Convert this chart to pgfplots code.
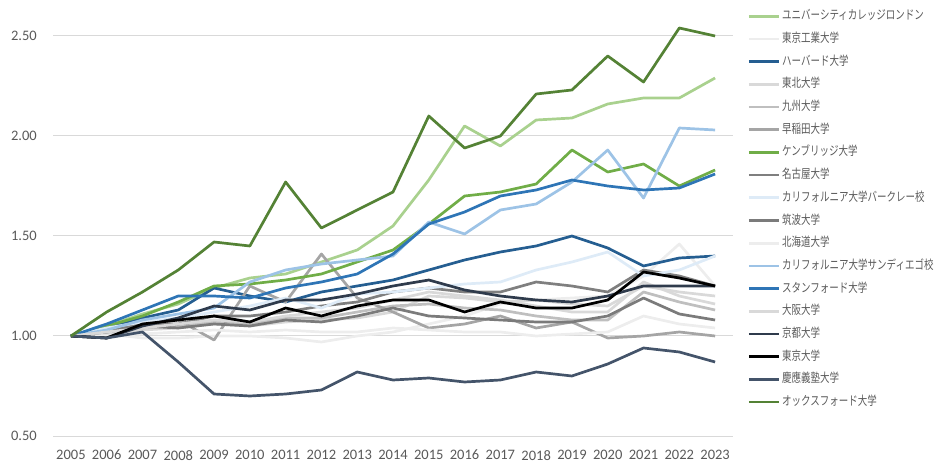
\documentclass[border=0pt]{standalone}
\usepackage{fontspec}
\setmainfont{Carlito}
\newfontfamily\jp[FakeStretch=0.76]{Noto Sans CJK JP}
\usepackage{pgfplots}
\pgfplotsset{compat=1.18}
\definecolor{cUCL}{HTML}{A9D18E}
\definecolor{cTIT}{HTML}{EDEDED}
\definecolor{cHarv}{HTML}{255E91}
\definecolor{cTohoku}{HTML}{D9D9D9}
\definecolor{cKyushu}{HTML}{BFBFBF}
\definecolor{cWaseda}{HTML}{A5A5A5}
\definecolor{cCamb}{HTML}{70AD47}
\definecolor{cNagoya}{HTML}{7F7F7F}
\definecolor{cBerk}{HTML}{DEEBF7}
\definecolor{cTsukuba}{HTML}{7B7B7B}
\definecolor{cHokudai}{HTML}{EDEDED}
\definecolor{cUCSD}{HTML}{9DC3E6}
\definecolor{cStan}{HTML}{2E75B6}
\definecolor{cOsaka}{HTML}{D9D9D9}
\definecolor{cKyoto}{HTML}{2F3B4C}
\definecolor{cTokyo}{HTML}{000000}
\definecolor{cKeio}{HTML}{44546A}
\definecolor{cOxf}{HTML}{548235}
\definecolor{gridc}{HTML}{D9D9D9}
\definecolor{tickc}{HTML}{595959}
\begin{document}
\begin{tikzpicture}
\useasboundingbox (0,0) rectangle (936pt,463pt);
\begin{axis}[
  at={(53pt,27pt)}, anchor=south west,
  scale only axis, width=680pt, height=436pt,
  xmin=2004.5, xmax=2023.5, ymin=0.5, ymax=2.68,
  xtick={2005,2006,...,2023}, ytick={0.5,1,1.5,2,2.5},
  axis line style={draw=none}, major tick length=0pt,
  ymajorgrids, grid style={draw=gridc, line width=1pt},
  /pgf/number format/assume math mode=true,
  xticklabel style={/pgf/number format/1000 sep={}, anchor=north, inner sep=0pt, yshift=-14pt},
  yticklabel style={/pgf/number format/.cd, fixed, fixed zerofill, precision=2, /tikz/.cd, anchor=east, inner sep=0pt, xshift=-16pt},
  tick label style={font=\fontsize{14.5}{16}\selectfont, text=tickc},
  every axis plot/.append style={mark=none, line width=2.7pt, line join=round},
  legend image code/.code={\draw[#1] (0pt,0pt) -- (30pt,0pt);},
  legend cell align=left,
  legend style={at={(1.021,0.977)}, anchor=north west, draw=none, fill=none, inner sep=0pt,
    font=\jp\fontsize{12.5}{13}\selectfont, text=tickc, row sep=10.7pt, column sep=2pt,
    nodes={inner sep=0pt, text height=9.5pt, text depth=2.5pt}},
]
% UCL
\addplot[cUCL] coordinates {(2005,1.00)(2006,1.05)(2007,1.11)(2008,1.16)(2009,1.24)(2010,1.29)(2011,1.31)(2012,1.37)(2013,1.43)(2014,1.55)(2015,1.78)(2016,2.05)(2017,1.95)(2018,2.08)(2019,2.09)(2020,2.16)(2021,2.19)(2022,2.19)(2023,2.29)};
\addlegendentry{ユニバーシティカレッジロンドン}
% Tokyo Tech
\addplot[cTIT] coordinates {(2005,1.00)(2006,1.01)(2007,0.99)(2008,0.99)(2009,1.00)(2010,1.00)(2011,0.99)(2012,0.97)(2013,1.00)(2014,1.02)(2015,1.06)(2016,1.10)(2017,1.16)(2018,1.18)(2019,1.19)(2020,1.20)(2021,1.30)(2022,1.46)(2023,1.25)};
\addlegendentry{東京工業大学}
% Harvard
\addplot[cHarv] coordinates {(2005,1.00)(2006,1.04)(2007,1.09)(2008,1.13)(2009,1.24)(2010,1.20)(2011,1.17)(2012,1.22)(2013,1.25)(2014,1.28)(2015,1.33)(2016,1.38)(2017,1.42)(2018,1.45)(2019,1.50)(2020,1.44)(2021,1.35)(2022,1.39)(2023,1.40)};
\addlegendentry{ハーバード大学}
% Tohoku
\addplot[cTohoku] coordinates {(2005,1.00)(2006,1.01)(2007,1.03)(2008,1.04)(2009,1.06)(2010,1.05)(2011,1.07)(2012,1.08)(2013,1.09)(2014,1.12)(2015,1.20)(2016,1.19)(2017,1.17)(2018,1.18)(2019,1.16)(2020,1.15)(2021,1.25)(2022,1.22)(2023,1.20)};
\addlegendentry{東北大学}
% Kyushu
\addplot[cKyushu] coordinates {(2005,1.00)(2006,1.02)(2007,1.04)(2008,1.05)(2009,1.07)(2010,1.06)(2011,1.09)(2012,1.09)(2013,1.12)(2014,1.15)(2015,1.16)(2016,1.14)(2017,1.13)(2018,1.10)(2019,1.08)(2020,1.08)(2021,1.22)(2022,1.17)(2023,1.13)};
\addlegendentry{九州大学}
% Waseda
\addplot[cWaseda] coordinates {(2005,1.00)(2006,1.02)(2007,1.06)(2008,1.08)(2009,0.98)(2010,1.25)(2011,1.17)(2012,1.41)(2013,1.19)(2014,1.12)(2015,1.04)(2016,1.06)(2017,1.10)(2018,1.04)(2019,1.07)(2020,0.99)(2021,1.00)(2022,1.02)(2023,1.00)};
\addlegendentry{早稲田大学}
% Cambridge
\addplot[cCamb] coordinates {(2005,1.00)(2006,1.05)(2007,1.10)(2008,1.17)(2009,1.25)(2010,1.26)(2011,1.28)(2012,1.31)(2013,1.37)(2014,1.43)(2015,1.56)(2016,1.70)(2017,1.72)(2018,1.76)(2019,1.93)(2020,1.82)(2021,1.86)(2022,1.75)(2023,1.83)};
\addlegendentry{ケンブリッジ大学}
% Nagoya
\addplot[cNagoya] coordinates {(2005,1.00)(2006,1.03)(2007,1.06)(2008,1.06)(2009,1.10)(2010,1.10)(2011,1.12)(2012,1.15)(2013,1.17)(2014,1.22)(2015,1.24)(2016,1.22)(2017,1.22)(2018,1.27)(2019,1.25)(2020,1.22)(2021,1.33)(2022,1.30)(2023,1.25)};
\addlegendentry{名古屋大学}
% Berkeley
\addplot[cBerk] coordinates {(2005,1.00)(2006,1.04)(2007,1.07)(2008,1.09)(2009,1.12)(2010,1.15)(2011,1.19)(2012,1.14)(2013,1.21)(2014,1.22)(2015,1.24)(2016,1.26)(2017,1.27)(2018,1.33)(2019,1.37)(2020,1.42)(2021,1.30)(2022,1.33)(2023,1.40)};
\addlegendentry{カリフォルニア大学バークレー校}
% Tsukuba
\addplot[cTsukuba] coordinates {(2005,1.00)(2006,1.02)(2007,1.05)(2008,1.04)(2009,1.06)(2010,1.05)(2011,1.08)(2012,1.07)(2013,1.10)(2014,1.14)(2015,1.10)(2016,1.09)(2017,1.08)(2018,1.07)(2019,1.07)(2020,1.10)(2021,1.19)(2022,1.11)(2023,1.08)};
\addlegendentry{筑波大学}
% Hokkaido
\addplot[cHokudai] coordinates {(2005,1.00)(2006,1.00)(2007,1.01)(2008,1.02)(2009,1.03)(2010,1.02)(2011,1.03)(2012,1.02)(2013,1.02)(2014,1.04)(2015,1.03)(2016,1.02)(2017,1.02)(2018,1.00)(2019,1.01)(2020,1.02)(2021,1.10)(2022,1.06)(2023,1.04)};
\addlegendentry{北海道大学}
% UCSD
\addplot[cUCSD] coordinates {(2005,1.00)(2006,1.03)(2007,1.08)(2008,1.11)(2009,1.14)(2010,1.27)(2011,1.33)(2012,1.36)(2013,1.38)(2014,1.40)(2015,1.57)(2016,1.51)(2017,1.63)(2018,1.66)(2019,1.77)(2020,1.93)(2021,1.69)(2022,2.04)(2023,2.03)};
\addlegendentry{カリフォルニア大学サンディエゴ校}
% Stanford
\addplot[cStan] coordinates {(2005,1.00)(2006,1.06)(2007,1.13)(2008,1.20)(2009,1.20)(2010,1.19)(2011,1.24)(2012,1.27)(2013,1.31)(2014,1.41)(2015,1.56)(2016,1.62)(2017,1.70)(2018,1.73)(2019,1.78)(2020,1.75)(2021,1.73)(2022,1.74)(2023,1.81)};
\addlegendentry{スタンフォード大学}
% Osaka
\addplot[cOsaka] coordinates {(2005,1.00)(2006,1.02)(2007,1.04)(2008,1.06)(2009,1.08)(2010,1.07)(2011,1.10)(2012,1.12)(2013,1.14)(2014,1.18)(2015,1.22)(2016,1.20)(2017,1.18)(2018,1.15)(2019,1.12)(2020,1.12)(2021,1.27)(2022,1.20)(2023,1.16)};
\addlegendentry{大阪大学}
% Kyoto
\addplot[cKyoto] coordinates {(2005,1.00)(2006,0.99)(2007,1.05)(2008,1.09)(2009,1.15)(2010,1.13)(2011,1.18)(2012,1.18)(2013,1.21)(2014,1.25)(2015,1.28)(2016,1.23)(2017,1.20)(2018,1.18)(2019,1.17)(2020,1.20)(2021,1.25)(2022,1.25)(2023,1.25)};
\addlegendentry{京都大学}
% Tokyo
\addplot[cTokyo] coordinates {(2005,1.00)(2006,0.99)(2007,1.06)(2008,1.08)(2009,1.10)(2010,1.07)(2011,1.14)(2012,1.10)(2013,1.15)(2014,1.18)(2015,1.18)(2016,1.12)(2017,1.17)(2018,1.14)(2019,1.14)(2020,1.18)(2021,1.32)(2022,1.29)(2023,1.25)};
\addlegendentry{東京大学}
% Keio
\addplot[cKeio] coordinates {(2005,1.00)(2006,0.99)(2007,1.02)(2008,0.87)(2009,0.71)(2010,0.70)(2011,0.71)(2012,0.73)(2013,0.82)(2014,0.78)(2015,0.79)(2016,0.77)(2017,0.78)(2018,0.82)(2019,0.80)(2020,0.86)(2021,0.94)(2022,0.92)(2023,0.87)};
\addlegendentry{慶應義塾大学}
% Oxford
\addplot[cOxf] coordinates {(2005,1.00)(2006,1.12)(2007,1.22)(2008,1.33)(2009,1.47)(2010,1.45)(2011,1.77)(2012,1.54)(2013,1.63)(2014,1.72)(2015,2.10)(2016,1.94)(2017,2.00)(2018,2.21)(2019,2.23)(2020,2.40)(2021,2.27)(2022,2.54)(2023,2.50)};
\addlegendentry{オックスフォード大学}
\end{axis}
\end{tikzpicture}
\end{document}
